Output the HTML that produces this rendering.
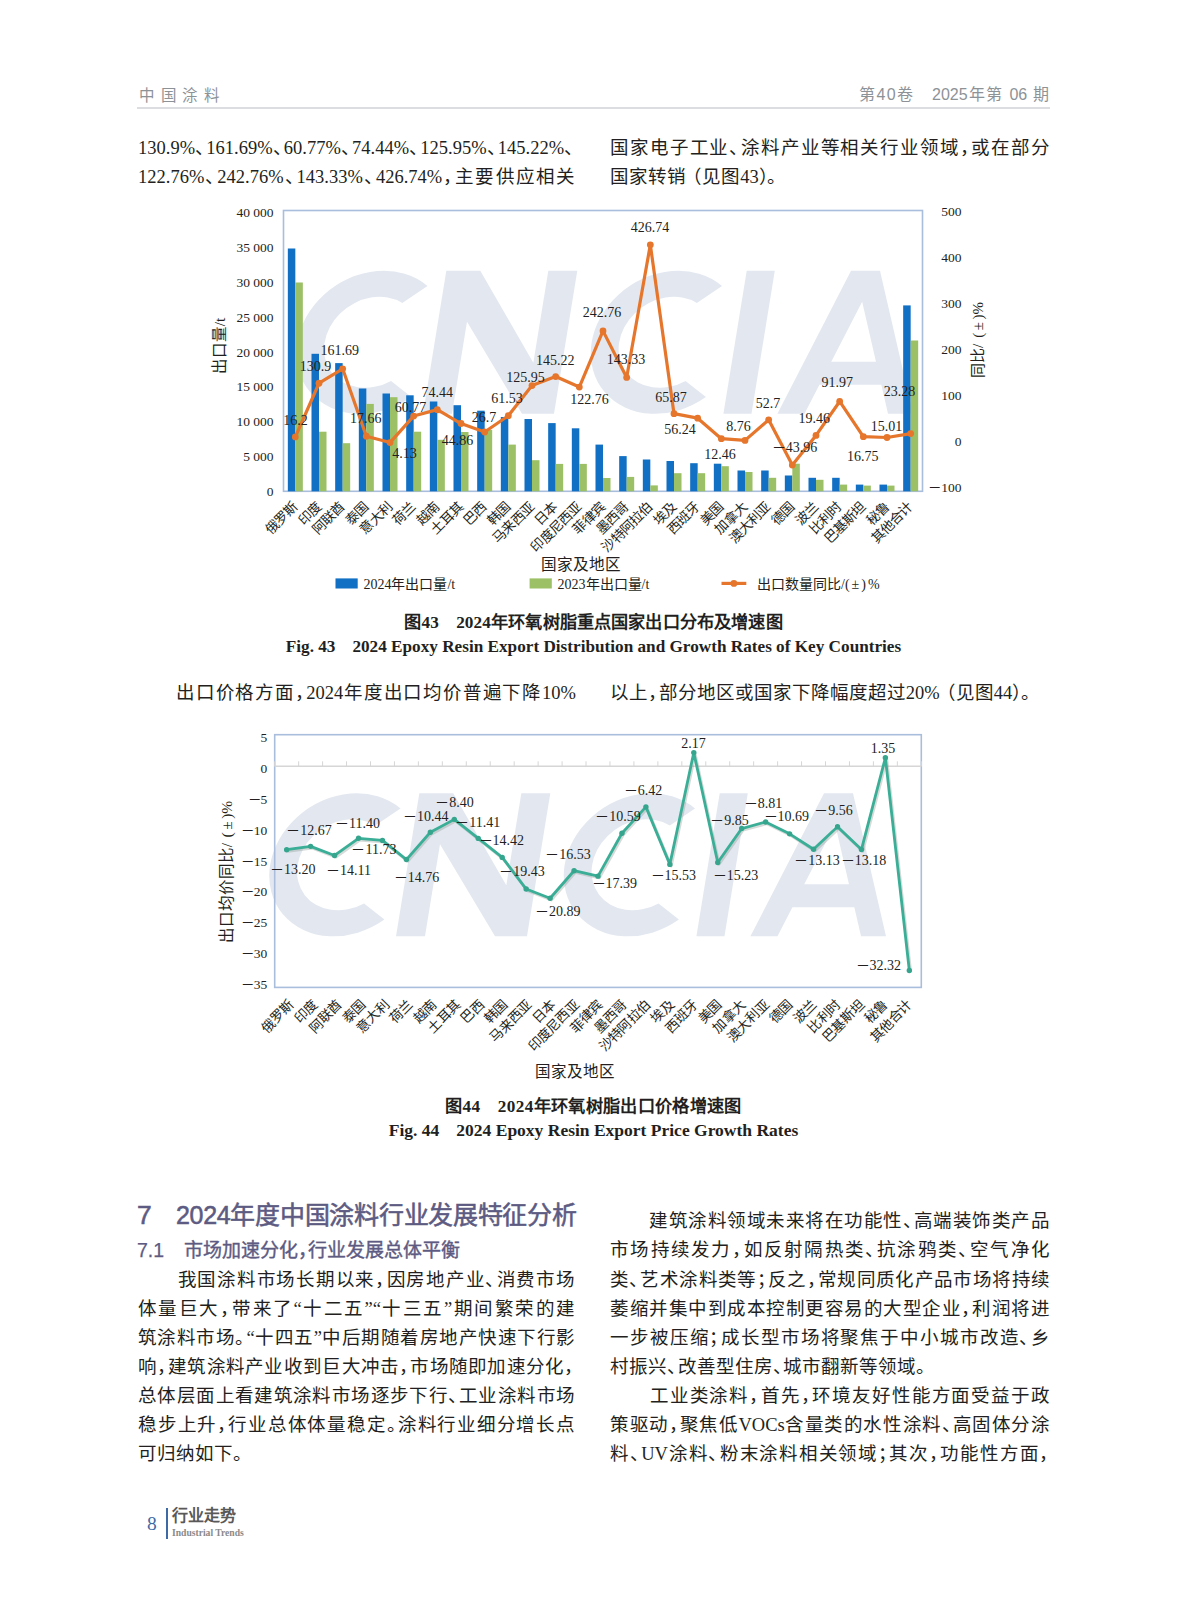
<!DOCTYPE html>
<html lang="zh-CN"><head><meta charset="utf-8"><title>page</title>
<style>
html,body{margin:0;padding:0;background:#fff;}
body{width:1187px;height:1600px;position:relative;overflow:hidden;font-family:'Liberation Serif', serif;}
.ln{position:absolute;white-space:nowrap;}
.p{letter-spacing:-0.45em;}
.pl{margin-left:-0.15em;}
.pr{letter-spacing:-0.1em;}
svg text{font-family:'Liberation Serif', serif;}
svg text.wm{font-family:'Liberation Sans', sans-serif;font-weight:bold;font-style:italic;}
</style></head><body>
<svg style="position:absolute;left:0;top:0" width="1187" height="1600" viewBox="0 0 1187 1600"><path d="M379.7,-127.8 A75,71.5 0 1 0 381.7,-16.7 L358.7,-32.9 A47.5,45.5 0 1 1 357.2,-110.9 Z M396,0 L425,0 L425,-92 L495,0 L527,0 L527,-143 L498,-143 L498,-51 L430,-143 L396,-143 Z M674.2,-127.8 A75,71.5 0 1 0 676.2,-16.7 L653.2,-32.9 A47.5,45.5 0 1 1 651.8,-110.9 Z M696.4,0 L724.5,0 L724.5,-143 L696.4,-143 Z M750.4,0 L800.7,-143 L829.7,-143 L886,0 L861,0 L849.6,-29 L787.7,-29 L777.5,0 Z M795.8,-52 L816.9,-112 L840.5,-52 Z" fill="#e3e8f0" fill-rule="evenodd" transform="matrix(1 0 -0.163 1 27 413.8)"/>
<rect x="283.5" y="210.5" width="639.0" height="280.8" fill="none" stroke="#a9bddc" stroke-width="1.6"/>
<rect x="287.83" y="248.5" width="7.5" height="242.80" fill="#1170c4"/>
<rect x="295.33" y="282.5" width="7.5" height="208.80" fill="#9cc066"/>
<rect x="311.50" y="353.8" width="7.5" height="137.50" fill="#1170c4"/>
<rect x="319.00" y="431.7" width="7.5" height="59.60" fill="#9cc066"/>
<rect x="335.17" y="363.1" width="7.5" height="128.20" fill="#1170c4"/>
<rect x="342.67" y="443.2" width="7.5" height="48.10" fill="#9cc066"/>
<rect x="358.83" y="388.5" width="7.5" height="102.80" fill="#1170c4"/>
<rect x="366.33" y="403.9" width="7.5" height="87.40" fill="#9cc066"/>
<rect x="382.50" y="393.5" width="7.5" height="97.80" fill="#1170c4"/>
<rect x="390.00" y="397.2" width="7.5" height="94.10" fill="#9cc066"/>
<rect x="406.17" y="395.3" width="7.5" height="96.00" fill="#1170c4"/>
<rect x="413.67" y="431.7" width="7.5" height="59.60" fill="#9cc066"/>
<rect x="429.83" y="401.5" width="7.5" height="89.80" fill="#1170c4"/>
<rect x="437.33" y="439.8" width="7.5" height="51.50" fill="#9cc066"/>
<rect x="453.50" y="405.2" width="7.5" height="86.10" fill="#1170c4"/>
<rect x="461.00" y="432" width="7.5" height="59.30" fill="#9cc066"/>
<rect x="477.17" y="410.7" width="7.5" height="80.60" fill="#1170c4"/>
<rect x="484.67" y="430" width="7.5" height="61.30" fill="#9cc066"/>
<rect x="500.83" y="417" width="7.5" height="74.30" fill="#1170c4"/>
<rect x="508.33" y="444.6" width="7.5" height="46.70" fill="#9cc066"/>
<rect x="524.50" y="419" width="7.5" height="72.30" fill="#1170c4"/>
<rect x="532.00" y="460.2" width="7.5" height="31.10" fill="#9cc066"/>
<rect x="548.17" y="423.1" width="7.5" height="68.20" fill="#1170c4"/>
<rect x="555.67" y="463.9" width="7.5" height="27.40" fill="#9cc066"/>
<rect x="571.83" y="428.3" width="7.5" height="63.00" fill="#1170c4"/>
<rect x="579.33" y="463.9" width="7.5" height="27.40" fill="#9cc066"/>
<rect x="595.50" y="444.6" width="7.5" height="46.70" fill="#1170c4"/>
<rect x="603.00" y="478" width="7.5" height="13.30" fill="#9cc066"/>
<rect x="619.17" y="456.1" width="7.5" height="35.20" fill="#1170c4"/>
<rect x="626.67" y="476.9" width="7.5" height="14.40" fill="#9cc066"/>
<rect x="642.83" y="459.5" width="7.5" height="31.80" fill="#1170c4"/>
<rect x="650.33" y="485.4" width="7.5" height="5.90" fill="#9cc066"/>
<rect x="666.50" y="461" width="7.5" height="30.30" fill="#1170c4"/>
<rect x="674.00" y="473.2" width="7.5" height="18.10" fill="#9cc066"/>
<rect x="690.17" y="463.2" width="7.5" height="28.10" fill="#1170c4"/>
<rect x="697.67" y="473.2" width="7.5" height="18.10" fill="#9cc066"/>
<rect x="713.83" y="463.7" width="7.5" height="27.60" fill="#1170c4"/>
<rect x="721.33" y="466.2" width="7.5" height="25.10" fill="#9cc066"/>
<rect x="737.50" y="470.5" width="7.5" height="20.80" fill="#1170c4"/>
<rect x="745.00" y="472" width="7.5" height="19.30" fill="#9cc066"/>
<rect x="761.17" y="470.5" width="7.5" height="20.80" fill="#1170c4"/>
<rect x="768.67" y="477.8" width="7.5" height="13.50" fill="#9cc066"/>
<rect x="784.83" y="475.5" width="7.5" height="15.80" fill="#1170c4"/>
<rect x="792.33" y="463.7" width="7.5" height="27.60" fill="#9cc066"/>
<rect x="808.50" y="477.8" width="7.5" height="13.50" fill="#1170c4"/>
<rect x="816.00" y="479.8" width="7.5" height="11.50" fill="#9cc066"/>
<rect x="832.17" y="477.8" width="7.5" height="13.50" fill="#1170c4"/>
<rect x="839.67" y="484.6" width="7.5" height="6.70" fill="#9cc066"/>
<rect x="855.83" y="484.6" width="7.5" height="6.70" fill="#1170c4"/>
<rect x="863.33" y="485.6" width="7.5" height="5.70" fill="#9cc066"/>
<rect x="879.50" y="484.6" width="7.5" height="6.70" fill="#1170c4"/>
<rect x="887.00" y="485.6" width="7.5" height="5.70" fill="#9cc066"/>
<rect x="903.17" y="305.4" width="7.5" height="185.90" fill="#1170c4"/>
<rect x="910.67" y="340.5" width="7.5" height="150.80" fill="#9cc066"/>
<polyline points="295.33,436.92 319.00,383.24 342.67,368.83 366.33,436.24 390.00,442.57 413.67,416.06 437.33,409.66 461.00,423.51 484.67,432.00 508.33,415.70 532.00,385.56 555.67,376.54 579.33,387.05 603.00,330.89 626.67,377.42 650.33,244.79 674.00,413.67 697.67,418.18 721.33,438.67 745.00,440.40 768.67,419.84 792.33,465.07 816.00,435.39 839.67,401.46 863.33,436.66 887.00,437.48 910.67,433.60" fill="none" stroke="#e5762c" stroke-width="3.2" stroke-linejoin="round"/>
<circle cx="295.33" cy="436.92" r="3.4" fill="#e5762c"/>
<circle cx="319.00" cy="383.24" r="3.4" fill="#e5762c"/>
<circle cx="342.67" cy="368.83" r="3.4" fill="#e5762c"/>
<circle cx="366.33" cy="436.24" r="3.4" fill="#e5762c"/>
<circle cx="390.00" cy="442.57" r="3.4" fill="#e5762c"/>
<circle cx="413.67" cy="416.06" r="3.4" fill="#e5762c"/>
<circle cx="437.33" cy="409.66" r="3.4" fill="#e5762c"/>
<circle cx="461.00" cy="423.51" r="3.4" fill="#e5762c"/>
<circle cx="484.67" cy="432.00" r="3.4" fill="#e5762c"/>
<circle cx="508.33" cy="415.70" r="3.4" fill="#e5762c"/>
<circle cx="532.00" cy="385.56" r="3.4" fill="#e5762c"/>
<circle cx="555.67" cy="376.54" r="3.4" fill="#e5762c"/>
<circle cx="579.33" cy="387.05" r="3.4" fill="#e5762c"/>
<circle cx="603.00" cy="330.89" r="3.4" fill="#e5762c"/>
<circle cx="626.67" cy="377.42" r="3.4" fill="#e5762c"/>
<circle cx="650.33" cy="244.79" r="3.4" fill="#e5762c"/>
<circle cx="674.00" cy="413.67" r="3.4" fill="#e5762c"/>
<circle cx="697.67" cy="418.18" r="3.4" fill="#e5762c"/>
<circle cx="721.33" cy="438.67" r="3.4" fill="#e5762c"/>
<circle cx="745.00" cy="440.40" r="3.4" fill="#e5762c"/>
<circle cx="768.67" cy="419.84" r="3.4" fill="#e5762c"/>
<circle cx="792.33" cy="465.07" r="3.4" fill="#e5762c"/>
<circle cx="816.00" cy="435.39" r="3.4" fill="#e5762c"/>
<circle cx="839.67" cy="401.46" r="3.4" fill="#e5762c"/>
<circle cx="863.33" cy="436.66" r="3.4" fill="#e5762c"/>
<circle cx="887.00" cy="437.48" r="3.4" fill="#e5762c"/>
<circle cx="910.67" cy="433.60" r="3.4" fill="#e5762c"/>
<text x="295.4" y="425.2" font-size="14" text-anchor="middle" fill="#231f20">16.2</text>
<text x="315.6" y="371.3" font-size="14" text-anchor="middle" fill="#231f20">130.9</text>
<text x="339.8" y="355.1" font-size="14" text-anchor="middle" fill="#231f20">161.69</text>
<text x="365.8" y="423.4" font-size="14" text-anchor="middle" fill="#231f20">17.66</text>
<text x="404.5" y="458.2" font-size="14" text-anchor="middle" fill="#231f20">4.13</text>
<text x="410.6" y="412.4" font-size="14" text-anchor="middle" fill="#231f20">60.77</text>
<text x="437.2" y="396.5" font-size="14" text-anchor="middle" fill="#231f20">74.44</text>
<text x="457.5" y="444.7" font-size="14" text-anchor="middle" fill="#231f20">44.86</text>
<text x="484" y="421.8" font-size="14" text-anchor="middle" fill="#231f20">26.7</text>
<text x="507" y="403.3" font-size="14" text-anchor="middle" fill="#231f20">61.53</text>
<text x="525.5" y="382.4" font-size="14" text-anchor="middle" fill="#231f20">125.95</text>
<text x="555.2" y="364.5" font-size="14" text-anchor="middle" fill="#231f20">145.22</text>
<text x="589.6" y="403.6" font-size="14" text-anchor="middle" fill="#231f20">122.76</text>
<text x="601.9" y="317.2" font-size="14" text-anchor="middle" fill="#231f20">242.76</text>
<text x="626" y="363.9" font-size="14" text-anchor="middle" fill="#231f20">143.33</text>
<text x="650" y="232.3" font-size="14" text-anchor="middle" fill="#231f20">426.74</text>
<text x="671" y="401.8" font-size="14" text-anchor="middle" fill="#231f20">65.87</text>
<text x="680.1" y="433.7" font-size="14" text-anchor="middle" fill="#231f20">56.24</text>
<text x="720.1" y="459.4" font-size="14" text-anchor="middle" fill="#231f20">12.46</text>
<text x="738.5" y="431.2" font-size="14" text-anchor="middle" fill="#231f20">8.76</text>
<text x="767.9" y="408.2" font-size="14" text-anchor="middle" fill="#231f20">52.7</text>
<text x="794.4" y="452.1" font-size="14" text-anchor="middle" fill="#231f20">－43.96</text>
<text x="814.3" y="423.0" font-size="14" text-anchor="middle" fill="#231f20">19.46</text>
<text x="837.3" y="386.9" font-size="14" text-anchor="middle" fill="#231f20">91.97</text>
<text x="862.7" y="460.5" font-size="14" text-anchor="middle" fill="#231f20">16.75</text>
<text x="886.4" y="431.2" font-size="14" text-anchor="middle" fill="#231f20">15.01</text>
<text x="899.5" y="395.8" font-size="14" text-anchor="middle" fill="#231f20">23.28</text>
<text x="273.5" y="495.9" font-size="13.5" text-anchor="end" fill="#231f20">0</text>
<text x="273.5" y="461.1" font-size="13.5" text-anchor="end" fill="#231f20">5 000</text>
<text x="273.5" y="426.2" font-size="13.5" text-anchor="end" fill="#231f20">10 000</text>
<text x="273.5" y="391.4" font-size="13.5" text-anchor="end" fill="#231f20">15 000</text>
<text x="273.5" y="356.5" font-size="13.5" text-anchor="end" fill="#231f20">20 000</text>
<text x="273.5" y="321.7" font-size="13.5" text-anchor="end" fill="#231f20">25 000</text>
<text x="273.5" y="286.8" font-size="13.5" text-anchor="end" fill="#231f20">30 000</text>
<text x="273.5" y="251.9" font-size="13.5" text-anchor="end" fill="#231f20">35 000</text>
<text x="273.5" y="217.1" font-size="13.5" text-anchor="end" fill="#231f20">40 000</text>
<text x="961.6" y="215.5" font-size="13.5" text-anchor="end" fill="#231f20">500</text>
<text x="961.6" y="261.6" font-size="13.5" text-anchor="end" fill="#231f20">400</text>
<text x="961.6" y="307.6" font-size="13.5" text-anchor="end" fill="#231f20">300</text>
<text x="961.6" y="353.7" font-size="13.5" text-anchor="end" fill="#231f20">200</text>
<text x="961.6" y="399.8" font-size="13.5" text-anchor="end" fill="#231f20">100</text>
<text x="961.6" y="445.8" font-size="13.5" text-anchor="end" fill="#231f20">0</text>
<text x="961.6" y="491.9" font-size="13.5" text-anchor="end" fill="#231f20">－100</text>
<text x="0" y="0" font-size="14" text-anchor="middle" fill="#231f20" transform="translate(225,346) rotate(-90)" style="font-size:15.5px">出口量/t</text>
<text x="0" y="0" font-size="15" text-anchor="middle" fill="#231f20" transform="translate(982.5,340) rotate(-90)">同比/<tspan dx="6">(</tspan><tspan dx="2.5">±</tspan><tspan dx="2.5">)</tspan>%</text>
<text x="0" y="0" font-size="13.5" text-anchor="end" fill="#231f20" transform="translate(298.33,507.5) rotate(-45)">俄罗斯</text>
<text x="0" y="0" font-size="13.5" text-anchor="end" fill="#231f20" transform="translate(322.00,507.5) rotate(-45)">印度</text>
<text x="0" y="0" font-size="13.5" text-anchor="end" fill="#231f20" transform="translate(345.67,507.5) rotate(-45)">阿联酋</text>
<text x="0" y="0" font-size="13.5" text-anchor="end" fill="#231f20" transform="translate(369.33,507.5) rotate(-45)">泰国</text>
<text x="0" y="0" font-size="13.5" text-anchor="end" fill="#231f20" transform="translate(393.00,507.5) rotate(-45)">意大利</text>
<text x="0" y="0" font-size="13.5" text-anchor="end" fill="#231f20" transform="translate(416.67,507.5) rotate(-45)">荷兰</text>
<text x="0" y="0" font-size="13.5" text-anchor="end" fill="#231f20" transform="translate(440.33,507.5) rotate(-45)">越南</text>
<text x="0" y="0" font-size="13.5" text-anchor="end" fill="#231f20" transform="translate(464.00,507.5) rotate(-45)">土耳其</text>
<text x="0" y="0" font-size="13.5" text-anchor="end" fill="#231f20" transform="translate(487.67,507.5) rotate(-45)">巴西</text>
<text x="0" y="0" font-size="13.5" text-anchor="end" fill="#231f20" transform="translate(511.33,507.5) rotate(-45)">韩国</text>
<text x="0" y="0" font-size="13.5" text-anchor="end" fill="#231f20" transform="translate(535.00,507.5) rotate(-45)">马来西亚</text>
<text x="0" y="0" font-size="13.5" text-anchor="end" fill="#231f20" transform="translate(558.67,507.5) rotate(-45)">日本</text>
<text x="0" y="0" font-size="13.5" text-anchor="end" fill="#231f20" transform="translate(582.33,507.5) rotate(-45)">印度尼西亚</text>
<text x="0" y="0" font-size="13.5" text-anchor="end" fill="#231f20" transform="translate(606.00,507.5) rotate(-45)">菲律宾</text>
<text x="0" y="0" font-size="13.5" text-anchor="end" fill="#231f20" transform="translate(629.67,507.5) rotate(-45)">墨西哥</text>
<text x="0" y="0" font-size="13.5" text-anchor="end" fill="#231f20" transform="translate(653.33,507.5) rotate(-45)">沙特阿拉伯</text>
<text x="0" y="0" font-size="13.5" text-anchor="end" fill="#231f20" transform="translate(677.00,507.5) rotate(-45)">埃及</text>
<text x="0" y="0" font-size="13.5" text-anchor="end" fill="#231f20" transform="translate(700.67,507.5) rotate(-45)">西班牙</text>
<text x="0" y="0" font-size="13.5" text-anchor="end" fill="#231f20" transform="translate(724.33,507.5) rotate(-45)">美国</text>
<text x="0" y="0" font-size="13.5" text-anchor="end" fill="#231f20" transform="translate(748.00,507.5) rotate(-45)">加拿大</text>
<text x="0" y="0" font-size="13.5" text-anchor="end" fill="#231f20" transform="translate(771.67,507.5) rotate(-45)">澳大利亚</text>
<text x="0" y="0" font-size="13.5" text-anchor="end" fill="#231f20" transform="translate(795.33,507.5) rotate(-45)">德国</text>
<text x="0" y="0" font-size="13.5" text-anchor="end" fill="#231f20" transform="translate(819.00,507.5) rotate(-45)">波兰</text>
<text x="0" y="0" font-size="13.5" text-anchor="end" fill="#231f20" transform="translate(842.67,507.5) rotate(-45)">比利时</text>
<text x="0" y="0" font-size="13.5" text-anchor="end" fill="#231f20" transform="translate(866.33,507.5) rotate(-45)">巴基斯坦</text>
<text x="0" y="0" font-size="13.5" text-anchor="end" fill="#231f20" transform="translate(890.00,507.5) rotate(-45)">秘鲁</text>
<text x="0" y="0" font-size="13.5" text-anchor="end" fill="#231f20" transform="translate(913.67,507.5) rotate(-45)">其他合计</text>
<text x="581" y="569.5" font-size="15.6" text-anchor="middle" fill="#231f20">国家及地区</text>
<rect x="335.5" y="578.4" width="22.2" height="10.1" fill="#1170c4"/>
<text x="363.4" y="589" font-size="14" fill="#231f20">2024年出口量/t</text>
<rect x="529.6" y="578.4" width="22.2" height="10.1" fill="#9cc066"/>
<text x="557.5" y="589" font-size="14" fill="#231f20">2023年出口量/t</text>
<line x1="721.5" y1="583.4" x2="746.3" y2="583.4" stroke="#e5762c" stroke-width="3.2"/>
<circle cx="733.9" cy="583.4" r="3.4" fill="#e5762c"/>
<text x="757" y="589" font-size="14" fill="#231f20">出口数量同比/<tspan style="letter-spacing:2px">(±)</tspan>%</text><path d="M379.7,-127.8 A75,71.5 0 1 0 381.7,-16.7 L358.7,-32.9 A47.5,45.5 0 1 1 357.2,-110.9 Z M396,0 L425,0 L425,-92 L495,0 L527,0 L527,-143 L498,-143 L498,-51 L430,-143 L396,-143 Z M674.2,-127.8 A75,71.5 0 1 0 676.2,-16.7 L653.2,-32.9 A47.5,45.5 0 1 1 651.8,-110.9 Z M696.4,0 L724.5,0 L724.5,-143 L696.4,-143 Z M750.4,0 L800.7,-143 L829.7,-143 L886,0 L861,0 L849.6,-29 L787.7,-29 L777.5,0 Z M795.8,-52 L816.9,-112 L840.5,-52 Z" fill="#e3e8f0" fill-rule="evenodd" transform="matrix(1 0 -0.163 1 0 936.3)"/>
<rect x="274.7" y="734.7" width="646.60" height="252.70" fill="none" stroke="#a9bddc" stroke-width="1.6"/>
<line x1="274.7" y1="766.30" x2="921.3" y2="766.30" stroke="#d6d6d6" stroke-width="1.5"/>
<line x1="274.70" y1="761.30" x2="274.70" y2="766.30" stroke="#d6d6d6" stroke-width="1"/>
<line x1="298.65" y1="761.30" x2="298.65" y2="766.30" stroke="#d6d6d6" stroke-width="1"/>
<line x1="322.60" y1="761.30" x2="322.60" y2="766.30" stroke="#d6d6d6" stroke-width="1"/>
<line x1="346.54" y1="761.30" x2="346.54" y2="766.30" stroke="#d6d6d6" stroke-width="1"/>
<line x1="370.49" y1="761.30" x2="370.49" y2="766.30" stroke="#d6d6d6" stroke-width="1"/>
<line x1="394.44" y1="761.30" x2="394.44" y2="766.30" stroke="#d6d6d6" stroke-width="1"/>
<line x1="418.39" y1="761.30" x2="418.39" y2="766.30" stroke="#d6d6d6" stroke-width="1"/>
<line x1="442.34" y1="761.30" x2="442.34" y2="766.30" stroke="#d6d6d6" stroke-width="1"/>
<line x1="466.29" y1="761.30" x2="466.29" y2="766.30" stroke="#d6d6d6" stroke-width="1"/>
<line x1="490.23" y1="761.30" x2="490.23" y2="766.30" stroke="#d6d6d6" stroke-width="1"/>
<line x1="514.18" y1="761.30" x2="514.18" y2="766.30" stroke="#d6d6d6" stroke-width="1"/>
<line x1="538.13" y1="761.30" x2="538.13" y2="766.30" stroke="#d6d6d6" stroke-width="1"/>
<line x1="562.08" y1="761.30" x2="562.08" y2="766.30" stroke="#d6d6d6" stroke-width="1"/>
<line x1="586.03" y1="761.30" x2="586.03" y2="766.30" stroke="#d6d6d6" stroke-width="1"/>
<line x1="609.97" y1="761.30" x2="609.97" y2="766.30" stroke="#d6d6d6" stroke-width="1"/>
<line x1="633.92" y1="761.30" x2="633.92" y2="766.30" stroke="#d6d6d6" stroke-width="1"/>
<line x1="657.87" y1="761.30" x2="657.87" y2="766.30" stroke="#d6d6d6" stroke-width="1"/>
<line x1="681.82" y1="761.30" x2="681.82" y2="766.30" stroke="#d6d6d6" stroke-width="1"/>
<line x1="705.77" y1="761.30" x2="705.77" y2="766.30" stroke="#d6d6d6" stroke-width="1"/>
<line x1="729.71" y1="761.30" x2="729.71" y2="766.30" stroke="#d6d6d6" stroke-width="1"/>
<line x1="753.66" y1="761.30" x2="753.66" y2="766.30" stroke="#d6d6d6" stroke-width="1"/>
<line x1="777.61" y1="761.30" x2="777.61" y2="766.30" stroke="#d6d6d6" stroke-width="1"/>
<line x1="801.56" y1="761.30" x2="801.56" y2="766.30" stroke="#d6d6d6" stroke-width="1"/>
<line x1="825.51" y1="761.30" x2="825.51" y2="766.30" stroke="#d6d6d6" stroke-width="1"/>
<line x1="849.46" y1="761.30" x2="849.46" y2="766.30" stroke="#d6d6d6" stroke-width="1"/>
<line x1="873.40" y1="761.30" x2="873.40" y2="766.30" stroke="#d6d6d6" stroke-width="1"/>
<line x1="897.35" y1="761.30" x2="897.35" y2="766.30" stroke="#d6d6d6" stroke-width="1"/>
<line x1="921.30" y1="761.30" x2="921.30" y2="766.30" stroke="#d6d6d6" stroke-width="1"/>
<polyline points="286.67,849.69 310.62,846.34 334.57,855.44 358.52,838.32 382.47,840.40 406.41,859.55 430.36,832.25 454.31,819.37 478.26,838.38 502.21,857.40 526.16,889.05 550.10,898.27 574.05,870.73 598.00,876.16 621.95,833.20 645.90,806.86 669.84,864.41 693.79,752.59 717.74,862.52 741.69,828.53 765.64,821.96 789.59,833.83 813.53,849.25 837.48,826.70 861.43,849.56 885.38,757.77 909.33,970.48" fill="none" stroke="#8a9490" stroke-opacity="0.35" stroke-width="3" stroke-linejoin="round" transform="translate(1.3,1.6)"/>
<polyline points="286.67,849.69 310.62,846.34 334.57,855.44 358.52,838.32 382.47,840.40 406.41,859.55 430.36,832.25 454.31,819.37 478.26,838.38 502.21,857.40 526.16,889.05 550.10,898.27 574.05,870.73 598.00,876.16 621.95,833.20 645.90,806.86 669.84,864.41 693.79,752.59 717.74,862.52 741.69,828.53 765.64,821.96 789.59,833.83 813.53,849.25 837.48,826.70 861.43,849.56 885.38,757.77 909.33,970.48" fill="none" stroke="#3aae96" stroke-width="2.8" stroke-linejoin="round"/>
<circle cx="286.67" cy="849.69" r="2.7" fill="#35a58e"/>
<circle cx="310.62" cy="846.34" r="2.7" fill="#35a58e"/>
<circle cx="334.57" cy="855.44" r="2.7" fill="#35a58e"/>
<circle cx="358.52" cy="838.32" r="2.7" fill="#35a58e"/>
<circle cx="382.47" cy="840.40" r="2.7" fill="#35a58e"/>
<circle cx="406.41" cy="859.55" r="2.7" fill="#35a58e"/>
<circle cx="430.36" cy="832.25" r="2.7" fill="#35a58e"/>
<circle cx="454.31" cy="819.37" r="2.7" fill="#35a58e"/>
<circle cx="478.26" cy="838.38" r="2.7" fill="#35a58e"/>
<circle cx="502.21" cy="857.40" r="2.7" fill="#35a58e"/>
<circle cx="526.16" cy="889.05" r="2.7" fill="#35a58e"/>
<circle cx="550.10" cy="898.27" r="2.7" fill="#35a58e"/>
<circle cx="574.05" cy="870.73" r="2.7" fill="#35a58e"/>
<circle cx="598.00" cy="876.16" r="2.7" fill="#35a58e"/>
<circle cx="621.95" cy="833.20" r="2.7" fill="#35a58e"/>
<circle cx="645.90" cy="806.86" r="2.7" fill="#35a58e"/>
<circle cx="669.84" cy="864.41" r="2.7" fill="#35a58e"/>
<circle cx="693.79" cy="752.59" r="2.7" fill="#35a58e"/>
<circle cx="717.74" cy="862.52" r="2.7" fill="#35a58e"/>
<circle cx="741.69" cy="828.53" r="2.7" fill="#35a58e"/>
<circle cx="765.64" cy="821.96" r="2.7" fill="#35a58e"/>
<circle cx="789.59" cy="833.83" r="2.7" fill="#35a58e"/>
<circle cx="813.53" cy="849.25" r="2.7" fill="#35a58e"/>
<circle cx="837.48" cy="826.70" r="2.7" fill="#35a58e"/>
<circle cx="861.43" cy="849.56" r="2.7" fill="#35a58e"/>
<circle cx="885.38" cy="757.77" r="2.7" fill="#35a58e"/>
<circle cx="909.33" cy="970.48" r="2.7" fill="#35a58e"/>
<text x="292.8" y="874.0" font-size="14" text-anchor="middle" fill="#231f20">－13.20</text>
<text x="309" y="834.6" font-size="14" text-anchor="middle" fill="#231f20">－12.67</text>
<text x="348.4" y="874.5" font-size="14" text-anchor="middle" fill="#231f20">－14.11</text>
<text x="357.6" y="827.7" font-size="14" text-anchor="middle" fill="#231f20">－11.40</text>
<text x="373.9" y="853.6" font-size="14" text-anchor="middle" fill="#231f20">－11.73</text>
<text x="416.5" y="881.5" font-size="14" text-anchor="middle" fill="#231f20">－14.76</text>
<text x="425.8" y="820.8" font-size="14" text-anchor="middle" fill="#231f20">－10.44</text>
<text x="454.5" y="807.3" font-size="14" text-anchor="middle" fill="#231f20">－8.40</text>
<text x="477.7" y="826.8" font-size="14" text-anchor="middle" fill="#231f20">－11.41</text>
<text x="501.3" y="845.3" font-size="14" text-anchor="middle" fill="#231f20">－14.42</text>
<text x="522.1" y="876.4" font-size="14" text-anchor="middle" fill="#231f20">－19.43</text>
<text x="557.8" y="916.2" font-size="14" text-anchor="middle" fill="#231f20">－20.89</text>
<text x="568" y="859.2" font-size="14" text-anchor="middle" fill="#231f20">－16.53</text>
<text x="614.3" y="888.2" font-size="14" text-anchor="middle" fill="#231f20">－17.39</text>
<text x="618" y="820.9" font-size="14" text-anchor="middle" fill="#231f20">－10.59</text>
<text x="643.1" y="794.7" font-size="14" text-anchor="middle" fill="#231f20">－6.42</text>
<text x="673.3" y="880.1" font-size="14" text-anchor="middle" fill="#231f20">－15.53</text>
<text x="693.5" y="747.8" font-size="14" text-anchor="middle" fill="#231f20">2.17</text>
<text x="735.5" y="880.1" font-size="14" text-anchor="middle" fill="#231f20">－15.23</text>
<text x="729.4" y="825.4" font-size="14" text-anchor="middle" fill="#231f20">－9.85</text>
<text x="763.1" y="807.9" font-size="14" text-anchor="middle" fill="#231f20">－8.81</text>
<text x="786.3" y="821.0" font-size="14" text-anchor="middle" fill="#231f20">－10.69</text>
<text x="817" y="865.2" font-size="14" text-anchor="middle" fill="#231f20">－13.13</text>
<text x="833.6" y="814.9" font-size="14" text-anchor="middle" fill="#231f20">－9.56</text>
<text x="863.4" y="865.2" font-size="14" text-anchor="middle" fill="#231f20">－13.18</text>
<text x="882.9" y="752.5" font-size="14" text-anchor="middle" fill="#231f20">1.35</text>
<text x="878.3" y="969.9" font-size="14" text-anchor="middle" fill="#231f20">－32.32</text>
<text x="267.3" y="741.8" font-size="13.5" text-anchor="end" fill="#231f20">5</text>
<text x="267.3" y="772.7" font-size="13.5" text-anchor="end" fill="#231f20">0</text>
<text x="267.3" y="803.7" font-size="13.5" text-anchor="end" fill="#231f20">－5</text>
<text x="267.3" y="834.6" font-size="13.5" text-anchor="end" fill="#231f20">－10</text>
<text x="267.3" y="865.5" font-size="13.5" text-anchor="end" fill="#231f20">－15</text>
<text x="267.3" y="896.4" font-size="13.5" text-anchor="end" fill="#231f20">－20</text>
<text x="267.3" y="927.4" font-size="13.5" text-anchor="end" fill="#231f20">－25</text>
<text x="267.3" y="958.3" font-size="13.5" text-anchor="end" fill="#231f20">－30</text>
<text x="267.3" y="989.2" font-size="13.5" text-anchor="end" fill="#231f20">－35</text>
<text x="0" y="0" font-size="15.5" text-anchor="middle" fill="#231f20" transform="translate(231.5,872) rotate(-90)">出口均价同比/<tspan dx="5.5">(</tspan><tspan dx="2.5">±</tspan><tspan dx="2.5">)</tspan>%</text>
<text x="0" y="0" font-size="13.5" text-anchor="end" fill="#231f20" transform="translate(294.67,1006) rotate(-45)">俄罗斯</text>
<text x="0" y="0" font-size="13.5" text-anchor="end" fill="#231f20" transform="translate(318.43,1006) rotate(-45)">印度</text>
<text x="0" y="0" font-size="13.5" text-anchor="end" fill="#231f20" transform="translate(342.19,1006) rotate(-45)">阿联酋</text>
<text x="0" y="0" font-size="13.5" text-anchor="end" fill="#231f20" transform="translate(365.94,1006) rotate(-45)">泰国</text>
<text x="0" y="0" font-size="13.5" text-anchor="end" fill="#231f20" transform="translate(389.70,1006) rotate(-45)">意大利</text>
<text x="0" y="0" font-size="13.5" text-anchor="end" fill="#231f20" transform="translate(413.45,1006) rotate(-45)">荷兰</text>
<text x="0" y="0" font-size="13.5" text-anchor="end" fill="#231f20" transform="translate(437.21,1006) rotate(-45)">越南</text>
<text x="0" y="0" font-size="13.5" text-anchor="end" fill="#231f20" transform="translate(460.96,1006) rotate(-45)">土耳其</text>
<text x="0" y="0" font-size="13.5" text-anchor="end" fill="#231f20" transform="translate(484.72,1006) rotate(-45)">巴西</text>
<text x="0" y="0" font-size="13.5" text-anchor="end" fill="#231f20" transform="translate(508.48,1006) rotate(-45)">韩国</text>
<text x="0" y="0" font-size="13.5" text-anchor="end" fill="#231f20" transform="translate(532.23,1006) rotate(-45)">马来西亚</text>
<text x="0" y="0" font-size="13.5" text-anchor="end" fill="#231f20" transform="translate(555.99,1006) rotate(-45)">日本</text>
<text x="0" y="0" font-size="13.5" text-anchor="end" fill="#231f20" transform="translate(579.74,1006) rotate(-45)">印度尼西亚</text>
<text x="0" y="0" font-size="13.5" text-anchor="end" fill="#231f20" transform="translate(603.50,1006) rotate(-45)">菲律宾</text>
<text x="0" y="0" font-size="13.5" text-anchor="end" fill="#231f20" transform="translate(627.26,1006) rotate(-45)">墨西哥</text>
<text x="0" y="0" font-size="13.5" text-anchor="end" fill="#231f20" transform="translate(651.01,1006) rotate(-45)">沙特阿拉伯</text>
<text x="0" y="0" font-size="13.5" text-anchor="end" fill="#231f20" transform="translate(674.77,1006) rotate(-45)">埃及</text>
<text x="0" y="0" font-size="13.5" text-anchor="end" fill="#231f20" transform="translate(698.52,1006) rotate(-45)">西班牙</text>
<text x="0" y="0" font-size="13.5" text-anchor="end" fill="#231f20" transform="translate(722.28,1006) rotate(-45)">美国</text>
<text x="0" y="0" font-size="13.5" text-anchor="end" fill="#231f20" transform="translate(746.04,1006) rotate(-45)">加拿大</text>
<text x="0" y="0" font-size="13.5" text-anchor="end" fill="#231f20" transform="translate(769.79,1006) rotate(-45)">澳大利亚</text>
<text x="0" y="0" font-size="13.5" text-anchor="end" fill="#231f20" transform="translate(793.55,1006) rotate(-45)">德国</text>
<text x="0" y="0" font-size="13.5" text-anchor="end" fill="#231f20" transform="translate(817.30,1006) rotate(-45)">波兰</text>
<text x="0" y="0" font-size="13.5" text-anchor="end" fill="#231f20" transform="translate(841.06,1006) rotate(-45)">比利时</text>
<text x="0" y="0" font-size="13.5" text-anchor="end" fill="#231f20" transform="translate(864.81,1006) rotate(-45)">巴基斯坦</text>
<text x="0" y="0" font-size="13.5" text-anchor="end" fill="#231f20" transform="translate(888.57,1006) rotate(-45)">秘鲁</text>
<text x="0" y="0" font-size="13.5" text-anchor="end" fill="#231f20" transform="translate(912.33,1006) rotate(-45)">其他合计</text>
<text x="575.3" y="1077" font-size="15.5" text-anchor="middle" fill="#231f20">国家及地区</text></svg>
<div class="ln" style="left:139px;top:86px;font-family:'Liberation Sans', sans-serif;font-size:15.5px;line-height:20px;color:#8d9297;letter-spacing:5.6px">中国涂料</div><div class="ln" style="left:859px;top:85px;font-family:'Liberation Sans', sans-serif;font-size:16px;line-height:20px;color:#8d9297;letter-spacing:1.4px">第40卷</div><div class="ln" style="left:932px;top:85px;width:117px;font-family:'Liberation Sans', sans-serif;font-size:16px;line-height:20px;color:#8d9297;text-align:justify;text-align-last:justify">2025年第 06 期</div><div class="ln" style="left:137px;top:107px;width:913px;height:2px;background:#dcdde0"></div><div class="ln" style="left:138px;top:137px;width:437px;font-size:18.5px;line-height:22.5px;color:#231f20;font-family:'Liberation Serif', serif;font-weight:normal;letter-spacing:0px;text-align:justify;text-align-last:justify;">130.9%<span class="p">、</span>161.69%<span class="p">、</span>60.77%<span class="p">、</span>74.44%<span class="p">、</span>125.95%<span class="p">、</span>145.22%<span class="p">、</span></div><div class="ln" style="left:138px;top:165.8px;width:437px;font-size:18.5px;line-height:22.5px;color:#231f20;font-family:'Liberation Serif', serif;font-weight:normal;letter-spacing:0px;text-align:justify;text-align-last:justify;">122.76%<span class="p">、</span>242.76%<span class="p">、</span>143.33%<span class="p">、</span>426.74%<span class="p">，</span>主要供应相关</div><div class="ln" style="left:610px;top:137px;width:440px;font-size:18.5px;line-height:22.5px;color:#231f20;font-family:'Liberation Serif', serif;font-weight:normal;letter-spacing:0px;text-align:justify;text-align-last:justify;">国家电子工业<span class="p">、</span>涂料产业等相关行业领域<span class="p">，</span>或在部分</div><div class="ln" style="left:610px;top:165.8px;width:440px;font-size:18.5px;line-height:22.5px;color:#231f20;font-family:'Liberation Serif', serif;font-weight:normal;letter-spacing:0px;">国家转销<span class="pl">（</span>见图43<span class="pr">）</span><span class="p">。</span></div><div class="ln" style="left:176px;top:682px;width:400px;font-size:18.5px;line-height:22.5px;color:#231f20;font-family:'Liberation Serif', serif;font-weight:normal;letter-spacing:0px;text-align:justify;text-align-last:justify;">出口价格方面<span class="p">，</span>2024年度出口均价普遍下降10%</div><div class="ln" style="left:610px;top:682px;width:420px;font-size:18.5px;line-height:22.5px;color:#231f20;font-family:'Liberation Serif', serif;font-weight:normal;letter-spacing:0px;">以上<span class="p">，</span>部分地区或国家下降幅度超过20%<span class="pl">（</span>见图44<span class="pr">）</span><span class="p">。</span></div><div class="ln" style="left:137px;top:1200px;font-family:'Liberation Sans', sans-serif;font-size:26.5px;line-height:30px;color:#5d5b82;font-weight:normal;-webkit-text-stroke:0.55px #5d5b82">7</div><div class="ln" style="left:176px;top:1199.5px;font-family:'Liberation Sans', sans-serif;font-size:25px;letter-spacing:-0.28px;line-height:30px;color:#5d5b82;font-weight:normal;-webkit-text-stroke:0.55px #5d5b82">2024年度中国涂料行业发展特征分析</div><div class="ln" style="left:137px;top:1239px;font-family:'Liberation Sans', sans-serif;font-size:19.5px;line-height:22px;color:#5d5b82;font-weight:normal;-webkit-text-stroke:0.25px #5d5b82">7.1</div><div class="ln" style="left:183.5px;top:1239.5px;font-family:'Liberation Sans', sans-serif;font-size:19px;line-height:22px;color:#5d5b82;font-weight:normal;-webkit-text-stroke:0.4px #5d5b82">市场加速分化<span class="p">，</span>行业发展总体平衡</div><div class="ln" style="left:138px;top:1268.6px;width:437px;font-size:18.5px;line-height:22.5px;color:#231f20;font-family:'Liberation Serif', serif;font-weight:normal;letter-spacing:0px;text-align:justify;text-align-last:justify;">　　我国涂料市场长期以来<span class="p">，</span>因房地产业<span class="p">、</span>消费市场</div><div class="ln" style="left:138px;top:1297.73px;width:437px;font-size:18.5px;line-height:22.5px;color:#231f20;font-family:'Liberation Serif', serif;font-weight:normal;letter-spacing:0px;text-align:justify;text-align-last:justify;">体量巨大<span class="p">，</span>带来了“十二五”“十三五”期间繁荣的建</div><div class="ln" style="left:138px;top:1326.86px;width:437px;font-size:18.5px;line-height:22.5px;color:#231f20;font-family:'Liberation Serif', serif;font-weight:normal;letter-spacing:0px;text-align:justify;text-align-last:justify;">筑涂料市场<span class="p">。</span>“十四五”中后期随着房地产快速下行影</div><div class="ln" style="left:138px;top:1355.99px;width:437px;font-size:18.5px;line-height:22.5px;color:#231f20;font-family:'Liberation Serif', serif;font-weight:normal;letter-spacing:0px;text-align:justify;text-align-last:justify;">响<span class="p">，</span>建筑涂料产业收到巨大冲击<span class="p">，</span>市场随即加速分化<span class="p">，</span></div><div class="ln" style="left:138px;top:1385.12px;width:437px;font-size:18.5px;line-height:22.5px;color:#231f20;font-family:'Liberation Serif', serif;font-weight:normal;letter-spacing:0px;text-align:justify;text-align-last:justify;">总体层面上看建筑涂料市场逐步下行<span class="p">、</span>工业涂料市场</div><div class="ln" style="left:138px;top:1414.25px;width:437px;font-size:18.5px;line-height:22.5px;color:#231f20;font-family:'Liberation Serif', serif;font-weight:normal;letter-spacing:0px;text-align:justify;text-align-last:justify;">稳步上升<span class="p">，</span>行业总体体量稳定<span class="p">。</span>涂料行业细分增长点</div><div class="ln" style="left:138px;top:1443.3799999999999px;width:437px;font-size:18.5px;line-height:22.5px;color:#231f20;font-family:'Liberation Serif', serif;font-weight:normal;letter-spacing:0px;">可归纳如下<span class="p">。</span></div><div class="ln" style="left:610px;top:1210.3px;width:440px;font-size:18.5px;line-height:22.5px;color:#231f20;font-family:'Liberation Serif', serif;font-weight:normal;letter-spacing:0px;text-align:justify;text-align-last:justify;">　　建筑涂料领域未来将在功能性<span class="p">、</span>高端装饰类产品</div><div class="ln" style="left:610px;top:1239.43px;width:440px;font-size:18.5px;line-height:22.5px;color:#231f20;font-family:'Liberation Serif', serif;font-weight:normal;letter-spacing:0px;text-align:justify;text-align-last:justify;">市场持续发力<span class="p">，</span>如反射隔热类<span class="p">、</span>抗涂鸦类<span class="p">、</span>空气净化</div><div class="ln" style="left:610px;top:1268.56px;width:440px;font-size:18.5px;line-height:22.5px;color:#231f20;font-family:'Liberation Serif', serif;font-weight:normal;letter-spacing:0px;text-align:justify;text-align-last:justify;">类<span class="p">、</span>艺术涂料类等<span class="p">；</span>反之<span class="p">，</span>常规同质化产品市场将持续</div><div class="ln" style="left:610px;top:1297.69px;width:440px;font-size:18.5px;line-height:22.5px;color:#231f20;font-family:'Liberation Serif', serif;font-weight:normal;letter-spacing:0px;text-align:justify;text-align-last:justify;">萎缩并集中到成本控制更容易的大型企业<span class="p">，</span>利润将进</div><div class="ln" style="left:610px;top:1326.82px;width:440px;font-size:18.5px;line-height:22.5px;color:#231f20;font-family:'Liberation Serif', serif;font-weight:normal;letter-spacing:0px;text-align:justify;text-align-last:justify;">一步被压缩<span class="p">；</span>成长型市场将聚焦于中小城市改造<span class="p">、</span>乡</div><div class="ln" style="left:610px;top:1355.95px;width:440px;font-size:18.5px;line-height:22.5px;color:#231f20;font-family:'Liberation Serif', serif;font-weight:normal;letter-spacing:0px;">村振兴<span class="p">、</span>改善型住房<span class="p">、</span>城市翻新等领域<span class="p">。</span></div><div class="ln" style="left:610px;top:1385.08px;width:440px;font-size:18.5px;line-height:22.5px;color:#231f20;font-family:'Liberation Serif', serif;font-weight:normal;letter-spacing:0px;text-align:justify;text-align-last:justify;">　　工业类涂料<span class="p">，</span>首先<span class="p">，</span>环境友好性能方面受益于政</div><div class="ln" style="left:610px;top:1414.21px;width:440px;font-size:18.5px;line-height:22.5px;color:#231f20;font-family:'Liberation Serif', serif;font-weight:normal;letter-spacing:0px;text-align:justify;text-align-last:justify;">策驱动<span class="p">，</span>聚焦低VOCs含量类的水性涂料<span class="p">、</span>高固体分涂</div><div class="ln" style="left:610px;top:1443.34px;width:440px;font-size:18.5px;line-height:22.5px;color:#231f20;font-family:'Liberation Serif', serif;font-weight:normal;letter-spacing:0px;text-align:justify;text-align-last:justify;">料<span class="p">、</span>UV涂料<span class="p">、</span>粉末涂料相关领域<span class="p">；</span>其次<span class="p">，</span>功能性方面<span class="p">，</span></div><div class="ln" style="left:147px;top:1513px;font-family:'Liberation Serif', serif;font-size:19.5px;line-height:22px;color:#3d6aa5">8</div><div class="ln" style="left:166px;top:1508px;width:2px;height:31px;background:#3d6aa5"></div><div class="ln" style="left:172px;top:1506px;font-family:'Liberation Sans', sans-serif;font-size:16px;line-height:20px;color:#595959;font-weight:bold">行业走势</div><div class="ln" style="left:172px;top:1527px;font-family:'Liberation Serif', serif;font-size:9.6px;line-height:12px;color:#8a8a8a;font-weight:bold">Industrial Trends</div><div class="ln" style="left:0;top:613px;width:1187px;text-align:center;letter-spacing:0.15px;font-family:'Liberation Serif', serif;font-size:17.2px;line-height:20px;color:#231f20;font-weight:bold">图43　2024年环氧树脂重点国家出口分布及增速图</div><div class="ln" style="left:0;top:636.5px;width:1187px;text-align:center;letter-spacing:0px;font-family:'Liberation Serif', serif;font-size:17.2px;line-height:20px;color:#231f20;font-weight:bold">Fig. 43　2024 Epoxy Resin Export Distribution and Growth Rates of Key Countries</div><div class="ln" style="left:0;top:1097px;width:1187px;text-align:center;letter-spacing:0.35px;font-family:'Liberation Serif', serif;font-size:17.2px;line-height:20px;color:#231f20;font-weight:bold">图44　2024年环氧树脂出口价格增速图</div><div class="ln" style="left:0;top:1120px;width:1187px;text-align:center;letter-spacing:0px;font-family:'Liberation Serif', serif;font-size:17.5px;line-height:20px;color:#231f20;font-weight:bold">Fig. 44　2024 Epoxy Resin Export Price Growth Rates</div>
</body></html>
